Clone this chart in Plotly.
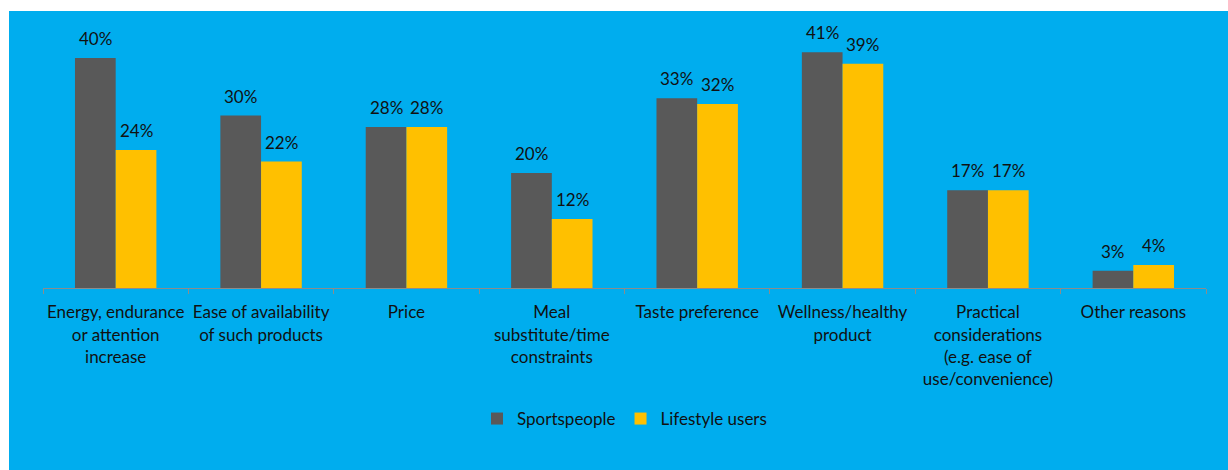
import plotly.graph_objects as go

categories = [
    "Energy, endurance<br>or attention<br>increase",
    "Ease of availability<br>of such products",
    "Price",
    "Meal<br>substitute/time<br>constraints",
    "Taste preference",
    "Wellness/healthy<br>product",
    "Practical<br>considerations<br>(e.g. ease of<br>use/convenience)",
    "Other reasons",
]
sportspeople = [40, 30, 28, 20, 33, 41, 17, 3]
lifestyle = [24, 22, 28, 12, 32, 39, 17, 4]

CYAN = "#00ADEE"
GREY = "#595959"
GOLD = "#FFC000"
TEXT = "#111111"
FONT = "Lato"
FS = 17

W, H = 1228, 470
L, R, T, B = 43, 22, 20, 182

fig = go.Figure()
fig.add_trace(go.Bar(name="Sportspeople", x=categories, y=sportspeople,
                     marker=dict(color=GREY, line=dict(width=0))))
fig.add_trace(go.Bar(name="Lifestyle users", x=categories, y=lifestyle,
                     marker=dict(color=GOLD, line=dict(width=0))))

# value labels above each bar
half = (W - L - R) / len(categories) * 0.56 / 4
annotations = []
for vals, shift in ((sportspeople, -half), (lifestyle, half)):
    for c, v in zip(categories, vals):
        annotations.append(dict(x=c, y=v, text=f"{v}%", showarrow=False,
                                xshift=shift, yshift=7, yanchor="bottom",
                                font=dict(family=FONT, size=FS, color=TEXT)))

pw = W - L - R
ph = H - T - B
fig.update_layout(
    width=W, height=H,
    margin=dict(l=L, r=R, t=T, b=B, autoexpand=False),
    barmode="group", bargap=0.44, bargroupgap=0,
    paper_bgcolor="white", plot_bgcolor="rgba(0,0,0,0)",
    font=dict(family=FONT, size=FS, color=TEXT),
    showlegend=True,
    legend=dict(orientation="h", x=0.5, xanchor="center", y=-131 / ph,
                yanchor="middle", bgcolor="rgba(0,0,0,0)",
                font=dict(family=FONT, size=FS, color=TEXT),
                itemwidth=30, traceorder="normal"),
    xaxis=dict(showline=True, linecolor="#8C8C8C", linewidth=1,
               ticks="outside", tickson="boundaries", ticklen=5,
               tickcolor="#8C8C8C", showgrid=False, fixedrange=True,
               tickangle=0, automargin=False, ticklabelstandoff=9,
               tickfont=dict(family=FONT, size=FS, color=TEXT)),
    yaxis=dict(range=[0, ph / 5.75], visible=False, showgrid=False,
               zeroline=False, fixedrange=True, automargin=False),
    annotations=annotations,
    shapes=[dict(type="rect", xref="paper", yref="paper", layer="below",
                 x0=(9 - L) / pw, x1=(W - L) / pw + 0.01,
                 y0=-(B + 5) / ph, y1=(H - 11 - B) / ph,
                 fillcolor=CYAN, line=dict(width=0))],
)

fig.write_html("out.html")
